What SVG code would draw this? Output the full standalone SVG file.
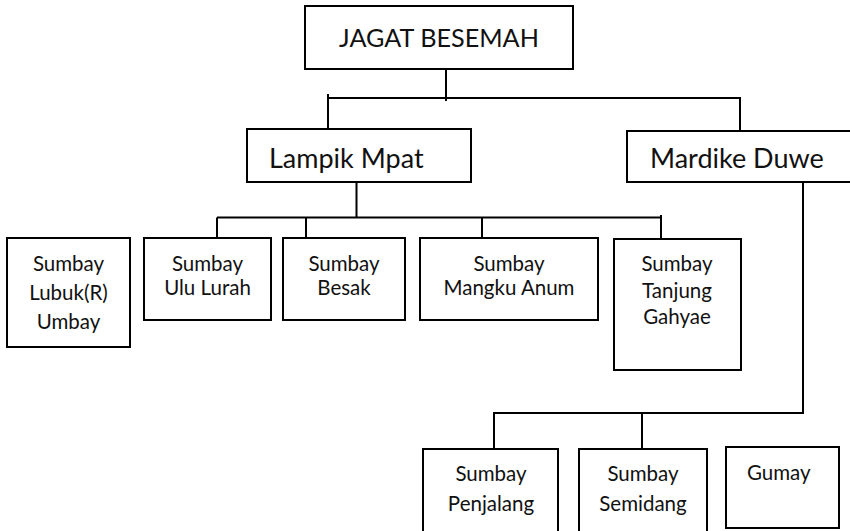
<svg xmlns="http://www.w3.org/2000/svg" width="850" height="531" viewBox="0 0 850 531">
<style>
.box{fill:#fff;stroke:#000;stroke-width:2}
.ln{fill:none;stroke:#000;stroke-width:2}
.t{font-family:Lato,"Open Sans","Liberation Sans",sans-serif;fill:#111}
.big{font-size:27px}
.sm{font-size:20.5px;text-anchor:middle}
</style>
<rect width="850" height="531" fill="#fff"/>
<g id="connectors">
<path class="ln" d="M446,69 V101 M328,94 V98 H740 V131 M328,98 V129"/>
<path class="ln" d="M356.5,182 V217.5 M217,217.5 H661 M217,217.5 V240 M306,217.5 V238 M482,217.5 V238 M661,215 V239"/>
<path class="ln" d="M803,182 V413 H494 V449 M642,413 V449"/>
</g>
<g id="jagat-besemah">
<rect class="box" x="305" y="6" width="268" height="63"/>
<text class="t" x="439" y="47" font-size="25.2" text-anchor="middle">JAGAT BESEMAH</text>
</g>
<g id="lampik-mpat">
<rect class="box" x="247" y="129" width="224" height="53"/>
<text class="t big" x="269" y="168">Lampik Mpat</text>
</g>
<g id="mardike-duwe">
<rect class="box" x="627" y="131" width="230" height="51"/>
<text class="t big" x="650" y="168">Mardike Duwe</text>
</g>
<g id="sumbay-lubuk-umbay">
<rect class="box" x="7" y="238" width="123" height="109"/>
<text class="t sm" x="68.5" y="271">Sumbay</text>
<text class="t sm" x="68.5" y="300">Lubuk(R)</text>
<text class="t sm" x="68.5" y="329">Umbay</text>
</g>
<g id="sumbay-ulu-lurah">
<rect class="box" x="144" y="238" width="127" height="82"/>
<text class="t sm" x="207.5" y="271">Sumbay</text>
<text class="t sm" x="207.5" y="295">Ulu Lurah</text>
</g>
<g id="sumbay-besak">
<rect class="box" x="283" y="238" width="122" height="82"/>
<text class="t sm" x="344" y="271">Sumbay</text>
<text class="t sm" x="344" y="295">Besak</text>
</g>
<g id="sumbay-mangku-anum">
<rect class="box" x="420" y="238" width="178" height="82"/>
<text class="t sm" x="509" y="271">Sumbay</text>
<text class="t sm" x="509" y="295">Mangku Anum</text>
</g>
<g id="sumbay-tanjung-gahyae">
<rect class="box" x="614" y="239" width="127" height="131"/>
<text class="t sm" x="677" y="271">Sumbay</text>
<text class="t sm" x="677" y="298">Tanjung</text>
<text class="t sm" x="677" y="324">Gahyae</text>
</g>
<g id="sumbay-penjalang">
<rect class="box" x="423" y="449" width="135" height="90"/>
<text class="t sm" x="491" y="481">Sumbay</text>
<text class="t sm" x="491" y="511">Penjalang</text>
</g>
<g id="sumbay-semidang">
<rect class="box" x="579" y="449" width="128" height="90"/>
<text class="t sm" x="643" y="481">Sumbay</text>
<text class="t sm" x="643" y="511">Semidang</text>
</g>
<g id="gumay">
<rect class="box" x="726" y="447" width="113" height="81"/>
<text class="t" x="747" y="480" font-size="20.5">Gumay</text>
</g>
</svg>
